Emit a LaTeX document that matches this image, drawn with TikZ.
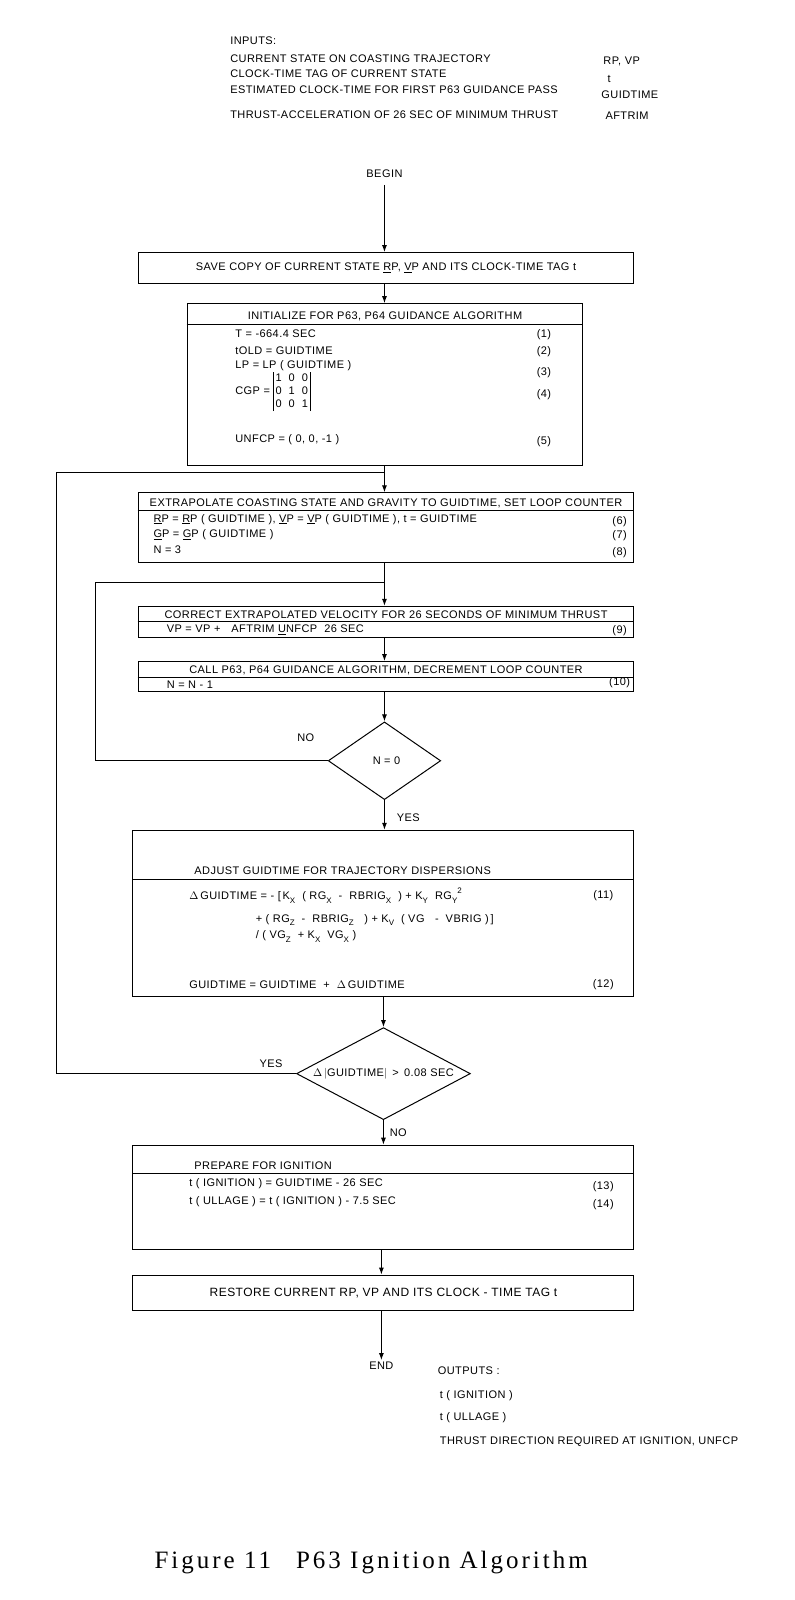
\documentclass[tikz,border=0pt]{standalone}
\usepackage{fontspec}
\setmainfont{Liberation Sans}[LetterSpace=4]
\newfontfamily\capfont{Liberation Serif}[LetterSpace=12]
\usetikzlibrary{shapes.geometric,arrows.meta}
\newcommand\dn[1]{\raisebox{-0.6ex}{\fontsize{8}{8}\selectfont #1}}
\newcommand\upx[1]{\raisebox{1.1ex}{\fontsize{8}{8}\selectfont #1}}
\def\sc{1.0225}
\begin{document}
\begin{tikzpicture}[x=1.0225pt,y=-1.0225pt,
  every node/.style={font=\fontsize{11}{13}\selectfont, inner sep=0pt},
  box/.style 2 args={draw, line width=1pt, minimum width=\sc*#1pt, minimum height=\sc*#2pt},
  ln/.style={line width=1pt},
  arr/.style={line width=1pt,-{Latex[length=7pt,width=5pt]}},
  tl/.style={anchor=west},
  num/.style={anchor=center},
  outtxt/.style={anchor=west, font=\fontsize{11}{13}\selectfont},
  dia/.style 2 args={draw, line width=1pt, shape=diamond, inner sep=0pt, minimum width=\sc*#1pt, minimum height=\sc*#2pt}]
\useasboundingbox (0,0) rectangle (776.53,1564.79);
\fill[white] (0,0) rectangle (776.53,1564.79);

% inputs
\node[tl] (in0) at (225,40) {INPUTS:};
\node[tl] (in1) at (225,57) {CURRENT STATE ON COASTING TRAJECTORY};
\node[tl] (in2) at (225,72) {CLOCK-TIME TAG OF CURRENT STATE};
\node[tl] (in3) at (225,88) {ESTIMATED CLOCK-TIME FOR FIRST P63 GUIDANCE PASS};
\node[tl] (in4) at (225,112) {THRUST-ACCELERATION OF 26 SEC OF MINIMUM THRUST};
\node[tl] (iv1) at (590,60) {RP, VP};
\node[tl] (iv2) at (594,77) {t};
\node[tl] (iv3) at (588,93) {GUIDTIME};
\node[tl] (iv4) at (592,113) {AFTRIM};

\node (begin) at (376,170) {BEGIN};

% save box
\node[box={485}{30}] (save) at (377.5,262)
  {SAVE COPY OF CURRENT STATE \underline{R}P, \underline{V}P AND ITS CLOCK-TIME TAG t};

% initialize box
\node[box={387}{158}] (init) at (376.5,376) {};
\node (inith) at (376.5,309) {INITIALIZE FOR P63, P64 GUIDANCE ALGORITHM};
\draw[ln] (init.west |- 0,317) -- (init.east |- 0,317);
\node[tl] (i1) at (230,326) {T = -664.4 SEC};
\node[tl] (i2) at (230,343) {tOLD = GUIDTIME};
\node[tl] (i3) at (230,358) {LP = LP ( GUIDTIME )};
\node[tl] (i4) at (230,383) {CGP = \renewcommand\arraystretch{1.0}\begin{tabular}{|@{\,}c@{\ \ }c@{\ \ }c@{\,}|}1&0&0\\0&1&0\\0&0&1\end{tabular}};
\node[tl] (i5) at (230,430) {UNFCP = ( 0, 0, -1 )};
\node[num] (n1) at (532,327) {(1)};
\node[num] (n2) at (532,344) {(2)};
\node[num] (n3) at (532,364) {(3)};
\node[num] (n4) at (532,386) {(4)};
\node[num] (n5) at (532,432) {(5)};

% extrapolate box
\node[box={485}{68}] (ex) at (377.5,516) {};
\node (exh) at (377.5,492) {EXTRAPOLATE COASTING STATE AND GRAVITY TO GUIDTIME, SET LOOP COUNTER};
\draw[ln] (ex.west |- 0,499) -- (ex.east |- 0,499);
\node[tl] (e1) at (150,508) {\underline{R}P = \underline{R}P ( GUIDTIME ), \underline{V}P = \underline{V}P ( GUIDTIME ), t = GUIDTIME};
\node[tl] (e2) at (150,523) {\underline{G}P = \underline{G}P ( GUIDTIME )};
\node[tl] (e3) at (150,538) {N = 3};
\node[num] (n6) at (606,510) {(6)};
\node[num] (n7) at (606,524) {(7)};
\node[num] (n8) at (606,540) {(8)};

% correct box
\node[box={485}{30}] (cor) at (377.5,608) {};
\node (corh) at (377.5,601) {CORRECT EXTRAPOLATED VELOCITY FOR 26 SECONDS OF MINIMUM THRUST};
\draw[ln] (cor.west |- 0,608) -- (cor.east |- 0,608);
\node[tl] (c1) at (163,616) {VP = VP +\quad AFTRIM \underline{U}NFCP\ \ 26 SEC};
\node[num] (n9) at (606,617) {(9)};

% call box
\node[box={485}{29}] (call) at (377.5,661.5) {};
\node (callh) at (377.5,656) {CALL P63, P64 GUIDANCE ALGORITHM, DECREMENT LOOP COUNTER};
\draw[ln] (call.west |- 0,663) -- (call.east |- 0,663);
\node[tl] (k1) at (163,670) {N = N - 1};
\node[num] (n10) at (606,668) {(10)};

% diamond 1
\node[dia={110}{76}] (d1) at (376,744) {};
\node (d1t) at (378,744) {N = 0};
\node (no1) at (299,721) {NO};
\node[tl] (yes1) at (388,800) {YES};

% adjust box
\node[box={490}{163}] (adj) at (375,893.5) {};
\node[tl] (adjh) at (190,852) {ADJUST GUIDTIME FOR TRAJECTORY DISPERSIONS};
\draw[ln] (adj.west |- 0,860) -- (adj.east |- 0,860);
\node[tl] (a1) at (185,876) {$\Delta$\,GUIDTIME = - [\,K\dn{X}\ \ ( RG\dn{X}\ \ - \ RBRIG\dn{X}\ \ ) + K\dn{Y}\ \ RG\dn{Y}\upx{2}};
\node[tl] (a2) at (250,900) {+ ( RG\dn{Z}\ \ - \ RBRIG\dn{Z}\ \ \ ) + K\dn{V}\ \ ( VG \ \ - \ VBRIG )\,]};
\node[tl] (a3) at (250,916) {/ ( VG\dn{Z}\ \ + K\dn{X}\ \ VG\dn{X}\ )};
\node[tl] (a4) at (185,963) {GUIDTIME = GUIDTIME \ + \ $\Delta$\,GUIDTIME};
\node[num] (n11) at (590,876) {(11)};
\node[num] (n12) at (590,963) {(12)};

% diamond 2
\node[dia={170}{90}] (d2) at (375,1050) {};
\node (d2t) at (375,1050) {$\Delta\,|$GUIDTIME$|$ \,>\, 0.08 SEC};
\node (yes2) at (265,1040) {YES};
\node[tl] (no2) at (381,1108) {NO};

% prepare box
\node[box={490}{102}] (prep) at (375,1171) {};
\node[tl] (preph) at (190,1140) {PREPARE FOR IGNITION};
\draw[ln] (prep.west |- 0,1148) -- (prep.east |- 0,1148);
\node[tl] (p1) at (185,1158) {t ( IGNITION ) = GUIDTIME - 26 SEC};
\node[tl] (p2) at (185,1175) {t ( ULLAGE ) = t ( IGNITION ) - 7.5 SEC};
\node[num] (n13) at (590,1161) {(13)};
\node[num] (n14) at (590,1178) {(14)};

% restore box
\node[box={490}{35}, font=\fontsize{12}{14}\selectfont] (rest) at (375,1264.5)
  {RESTORE CURRENT RP, VP AND ITS CLOCK - TIME TAG t};

\node (endn) at (373,1336) {END};

% outputs
\node[outtxt] (o0) at (428,1341) {OUTPUTS :};
\node[outtxt] (o1) at (430,1365) {t ( IGNITION )};
\node[outtxt] (o2) at (430,1386) {t ( ULLAGE )};
\node[outtxt] (o3) at (430,1410) {THRUST DIRECTION REQUIRED AT IGNITION, UNFCP};

% caption
\node (cap) at (363,1528) {\capfont\fontsize{25}{28}\selectfont Figure 11\quad P63 Ignition Algorithm};

% connectors
\coordinate (j1) at (376,462);
\coordinate (j2) at (376,570);
\draw[arr] ([yshift=-7pt]begin.south) -- (begin.south |- save.north);
\draw[arr] (begin.south |- save.south) -- (begin.south |- init.north);
\draw[arr] (begin.south |- init.south) -- (begin.south |- ex.north);
\draw[arr] (begin.south |- ex.south) -- (begin.south |- cor.north);
\draw[arr] (begin.south |- cor.south) -- (begin.south |- call.north);
\draw[arr] (d1.north |- call.south) -- (d1.north);
\draw[arr] (d1.south) -- (d1.south |- adj.north);
\draw[arr] (d2.north |- adj.south) -- (d2.north);
\draw[arr] (d2.south) -- (d2.south |- prep.north);
\draw[arr] (endn.north |- prep.south) -- (endn.north |- rest.north);
\draw[arr] (endn.north |- rest.south) -- ([yshift=2pt]endn.north);
\coordinate (l1) at (93,744);
\coordinate (l2) at (93,570);
\draw[ln] (d1.west) -- (l1) -- (l2) -- (j2);
\coordinate (m1) at (55,1050);
\coordinate (m2) at (55,462);
\draw[ln] (d2.west) -- (m1) -- (m2) -- (j1);
\end{tikzpicture}
\end{document}
